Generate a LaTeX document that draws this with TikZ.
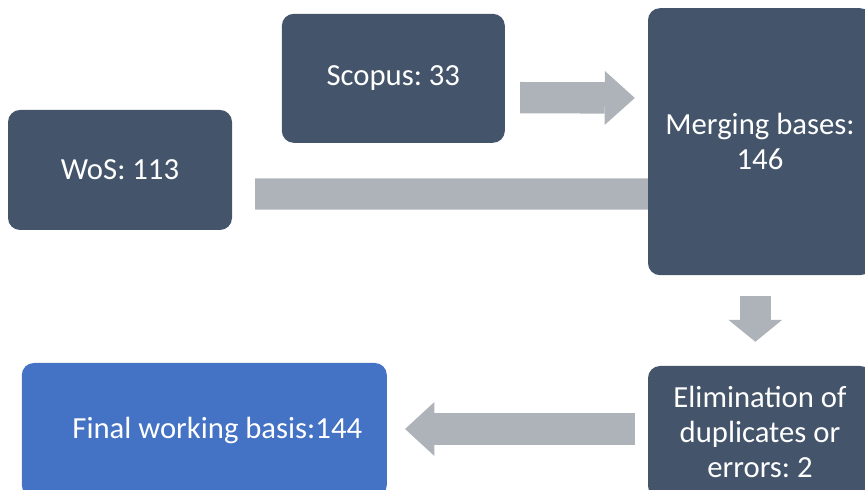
\documentclass[tikz,border=0pt]{standalone}
\usepackage{fontspec}
\setmainfont{Carlito}
\usetikzlibrary{arrows.meta,positioning}

\begin{document}
\frenchspacing
\begin{tikzpicture}[
    font=\fontsize{26.2}{29.5}\selectfont,
    stepbox/.style={fill=slateBox, text=white, rounded corners=0.36cm, align=center, inner sep=0pt},
    fatbar/.style={draw=arrowGray, line width=0.94cm, line cap=butt},
    fatarrow/.style={fatbar, -{Triangle[length=#1, width=1.62cm, line width=0pt]}},
    fatarrow/.default=0.88cm
]

    % Define colors
    \definecolor{slateBox}{HTML}{44546A}
    \definecolor{finalBlue}{HTML}{4472C4}
    \definecolor{arrowGray}{HTML}{AEB2B9}

    % Canvas
    \useasboundingbox (0,0) rectangle (25.95,14.7);
    \clip (0,0) rectangle (25.95,14.7);

    % === SOURCE BASES ===
    \node[stepbox, minimum width=6.72cm, minimum height=3.6cm] (wos) at (3.6, 9.6) {WoS: 113};
    \node[stepbox, minimum width=6.69cm, minimum height=3.87cm] (scopus) at (11.8, 12.35) {Scopus: 33};

    % === MERGE AND CLEAN ===
    \node[stepbox, minimum width=6.72cm, minimum height=8.01cm] (merge) at (22.8, 10.45) {Merging bases:\\146};
    \node[stepbox, minimum width=6.72cm, minimum height=3.96cm] (elim) at (22.8, 1.74) {Elimination of\\duplicates or\\errors: 2};

    % === RESULT ===
    \node[stepbox, fill=finalBlue, minimum width=10.95cm, minimum height=4.02cm] (final) at (6.13, 1.8) {\hspace*{0.78cm}Final working basis:144};

    % === CONNECTORS ===
    % Scopus -> Merging
    \draw[fatarrow=0.9cm] ([shift={(0.45,-0.58)}]scopus.east) -- ([shift={(-0.39,1.31)}]merge.west);
    % WoS -> Merging (head hidden behind the box)
    \draw[fatbar] ([shift={(0.69,-0.72)}]wos.east) -- ([yshift=-1.57cm]merge.west);
    % Merging -> Elimination
    \draw[fatarrow=0.66cm] ([shift={(-0.14,-0.63)}]merge.south) -- ([shift={(-0.14,0.72)}]elim.north);
    % Elimination -> Final
    \draw[fatarrow] ([shift={(-0.39,0.09)}]elim.west) -- ([shift={(0.54,0.03)}]final.east);

\end{tikzpicture}
\end{document}
